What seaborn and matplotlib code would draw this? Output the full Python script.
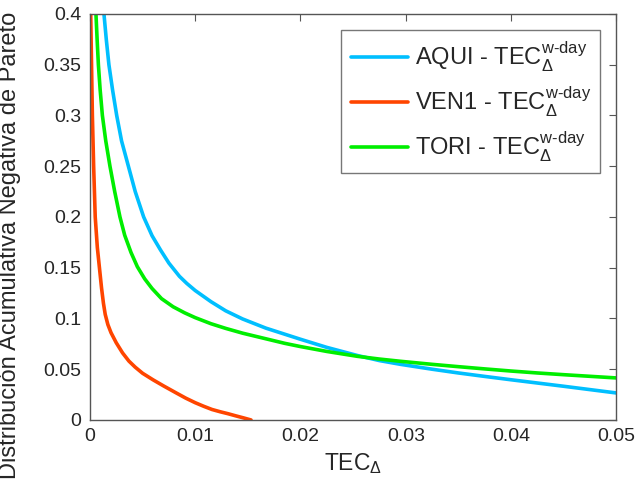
import numpy as np
import pandas as pd
import seaborn as sns
import matplotlib
matplotlib.use("Agg")
import matplotlib.pyplot as plt
from matplotlib.ticker import FuncFormatter, MultipleLocator

# Values
aqui_x = [0.00133, 0.00155, 0.00180, 0.00215, 0.00254, 0.00300, 0.00365, 0.00430,
          0.0051, 0.0059, 0.0067, 0.0075, 0.0085, 0.0092, 0.0100, 0.0115, 0.0129,
          0.0145, 0.0167, 0.0185, 0.0200, 0.0225, 0.0254, 0.0275, 0.0295,
          0.0325, 0.0350, 0.0375, 0.0400, 0.0425, 0.0450, 0.0475, 0.0500]
aqui_y = [0.400, 0.375, 0.350, 0.325, 0.300, 0.275, 0.250, 0.225,
          0.200, 0.1815, 0.1675, 0.1545, 0.1415, 0.1345, 0.1275, 0.1165, 0.1075,
          0.0995, 0.0905, 0.0845, 0.0795, 0.0715, 0.0635, 0.0585, 0.0548,
          0.050, 0.0463, 0.0429, 0.0396, 0.0364, 0.0332, 0.0299, 0.0266]

ven1_x = [0.00007, 0.00015, 0.00023, 0.00035, 0.0005, 0.0007, 0.0009, 0.0011,
          0.00128, 0.00145, 0.0017, 0.0020, 0.0025, 0.0031, 0.0037, 0.0043,
          0.0050, 0.0060, 0.0070, 0.0082, 0.0091, 0.0100, 0.0108, 0.0116,
          0.0124, 0.0131, 0.0138, 0.0146, 0.0153]
ven1_y = [0.400, 0.350, 0.300, 0.250, 0.200, 0.170, 0.150, 0.130,
          0.115, 0.104, 0.094, 0.086, 0.076, 0.066, 0.058, 0.052,
          0.046, 0.0395, 0.0335, 0.0266, 0.0215, 0.0170, 0.0135, 0.0103,
          0.0080, 0.0062, 0.0042, 0.0020, 0.0]

tori_x = [0.00057, 0.00068, 0.0008, 0.00097, 0.00118, 0.00150, 0.0019, 0.00235,
          0.00285, 0.0033, 0.0039, 0.0045, 0.0052, 0.0059, 0.0068, 0.0079,
          0.0090, 0.0100, 0.0115, 0.0129, 0.0145, 0.0167, 0.0185, 0.0200,
          0.0225, 0.0254, 0.0275, 0.0295, 0.0325, 0.0350, 0.0375, 0.0400,
          0.0425, 0.0450, 0.0475, 0.0500]
tori_y = [0.400, 0.375, 0.350, 0.325, 0.300, 0.275, 0.250, 0.225,
          0.200, 0.182, 0.165, 0.151, 0.139, 0.1295, 0.1195, 0.1115,
          0.1055, 0.1008, 0.0948, 0.0902, 0.0855, 0.080, 0.0755, 0.0723,
          0.0675, 0.0627, 0.060, 0.0578, 0.0548, 0.0525, 0.0503, 0.0482,
          0.0463, 0.0446, 0.0430, 0.0414]

suffix = r" - TEC$_{\Delta}^{\mathrm{w\text{-}day}}$"
series = [("AQUI", aqui_x, aqui_y, "#00bfff"),
          ("VEN1", ven1_x, ven1_y, "#ff4500"),
          ("TORI", tori_x, tori_y, "#00ee00")]

sns.set_style("white")
plt.rcParams["font.family"] = ["Liberation Sans", "DejaVu Sans"]
plt.rcParams["mathtext.fontset"] = "custom"
plt.rcParams["mathtext.rm"] = "Liberation Sans"
plt.rcParams["mathtext.it"] = "Liberation Sans:italic"
plt.rcParams["mathtext.sf"] = "Liberation Sans"

fig = plt.figure(figsize=(6.38, 4.97), dpi=100)
ax = fig.add_axes([0.141, 0.155, 0.825, 0.817])

for name, xs, ys, col in series:
    df = pd.DataFrame({"x": xs, "y": ys})
    sns.lineplot(data=df, x="x", y="y", ax=ax, color=col, linewidth=2.6,
                 estimator=None, sort=False, label=name + suffix)

ax.set_xlim(0, 0.05)
ax.set_ylim(0, 0.4)
ax.xaxis.set_major_locator(MultipleLocator(0.01))
ax.yaxis.set_major_locator(MultipleLocator(0.05))
fmt = FuncFormatter(lambda v, p: f"{v:g}")
ax.xaxis.set_major_formatter(fmt)
ax.yaxis.set_major_formatter(fmt)
ax.tick_params(direction="in", length=5, width=0.8, color="#555555",
               labelsize=14, top=True, right=True, pad=6)

for s in ax.spines.values():
    s.set_color("#555555")
    s.set_linewidth(1.0)

ax.set_xlabel(r"TEC$_{\Delta}$", fontsize=16.5, labelpad=4)
ax.set_ylabel("Distribución Acumulativa Negativa de Pareto", fontsize=17)
ax.yaxis.set_label_coords(-0.131, 0.43)

leg = ax.legend(loc="upper right", fontsize=17, handlelength=2.4,
                frameon=True, fancybox=False, borderpad=0.4,
                labelspacing=0.45, handletextpad=0.3, borderaxespad=0,
                bbox_to_anchor=(0.9696, 0.9606))
leg.get_frame().set_edgecolor("#555555")
leg.get_frame().set_linewidth(1.0)

fig.savefig("out.png", dpi=100)
